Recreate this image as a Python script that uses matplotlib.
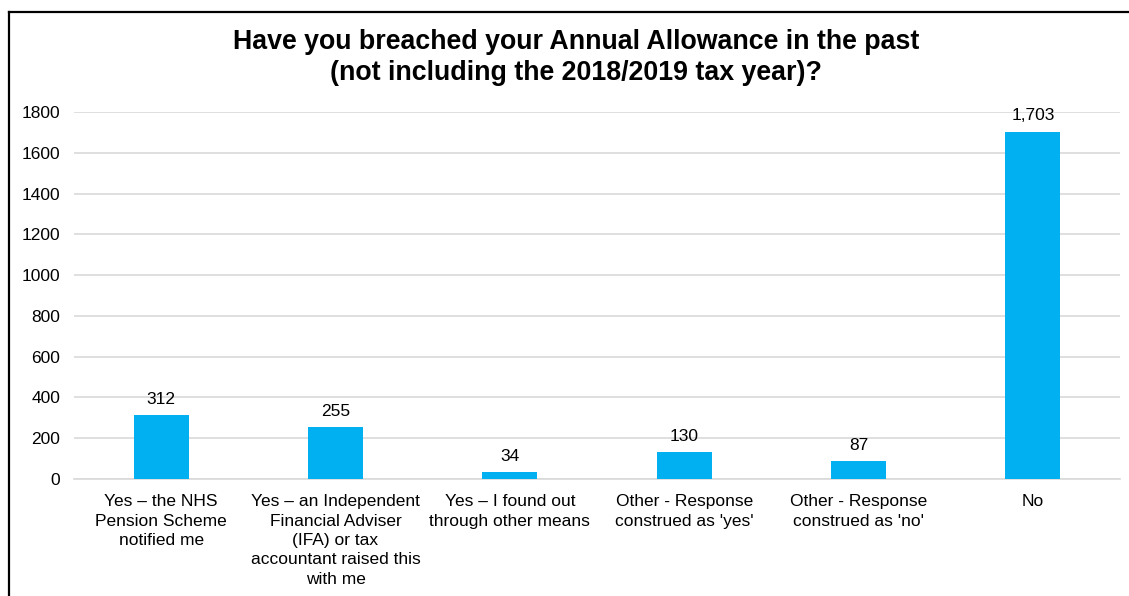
import matplotlib.pyplot as plt
from matplotlib.lines import Line2D

plt.rcParams['font.family'] = ['Liberation Sans', 'DejaVu Sans']

categories = [
    "Yes \u2013 the NHS\nPension Scheme\nnotified me",
    "Yes \u2013 an Independent\nFinancial Adviser\n(IFA) or tax\naccountant raised this\nwith me",
    "Yes \u2013 I found out\nthrough other means",
    "Other - Response\nconstrued as 'yes'",
    "Other - Response\nconstrued as 'no'",
    "No",
]
counts = [312, 255, 34, 130, 87, 1703]
yticks = [0, 200, 400, 600, 800, 1000, 1200, 1400, 1600, 1800]

W, H = 1129, 596
fig = plt.figure(figsize=(W / 100, H / 100), dpi=100)
ax = fig.add_axes([74 / W, 1 - 479 / H, (1120 - 74) / W, (479 - 112) / H])

x = range(len(counts))
bars = ax.bar(x, counts, width=0.315, color='#00B0F0', zorder=3)
for b, v in zip(bars, counts):
    ax.annotate(f"{v:,}", (b.get_x() + b.get_width() / 2, v), xytext=(0, 6),
                textcoords='offset points', ha='center', va='bottom',
                fontsize=12.5, color='#000000')

ax.set_xlim(-0.5, len(counts) - 0.5)
ax.set_ylim(0, 1800)
ax.set_yticks(yticks)
ax.set_yticklabels([str(t) for t in yticks], fontsize=12.5)
ax.set_xticks(list(x))
ax.set_xticklabels(categories, fontsize=12.5, linespacing=1.36, va='top')
ax.tick_params(axis='both', length=0)
ax.tick_params(axis='y', pad=10)
ax.tick_params(axis='x', pad=11)
ax.grid(axis='y', color='#D9D9D9', linewidth=1.2, zorder=0)
for s in ['top', 'right', 'left']:
    ax.spines[s].set_visible(False)
ax.spines['bottom'].set_color('#D9D9D9')
ax.spines['bottom'].set_linewidth(1.2)

fig.text(576 / W, 1 - 57.5 / H,
         "Have you breached your Annual Allowance in the past\n(not including the 2018/2019 tax year)?",
         ha='center', va='center', fontsize=19.3, fontweight='bold', linespacing=1.23)

# chart frame: only the top and left edges fall inside the canvas
fig.lines.append(Line2D([9 / W, 1], [1 - 12 / H, 1 - 12 / H], transform=fig.transFigure,
                        color='black', linewidth=1.6))
fig.lines.append(Line2D([9 / W, 9 / W], [0, 1 - 12 / H], transform=fig.transFigure,
                        color='black', linewidth=1.6))

fig.savefig('out.png', dpi=100)
